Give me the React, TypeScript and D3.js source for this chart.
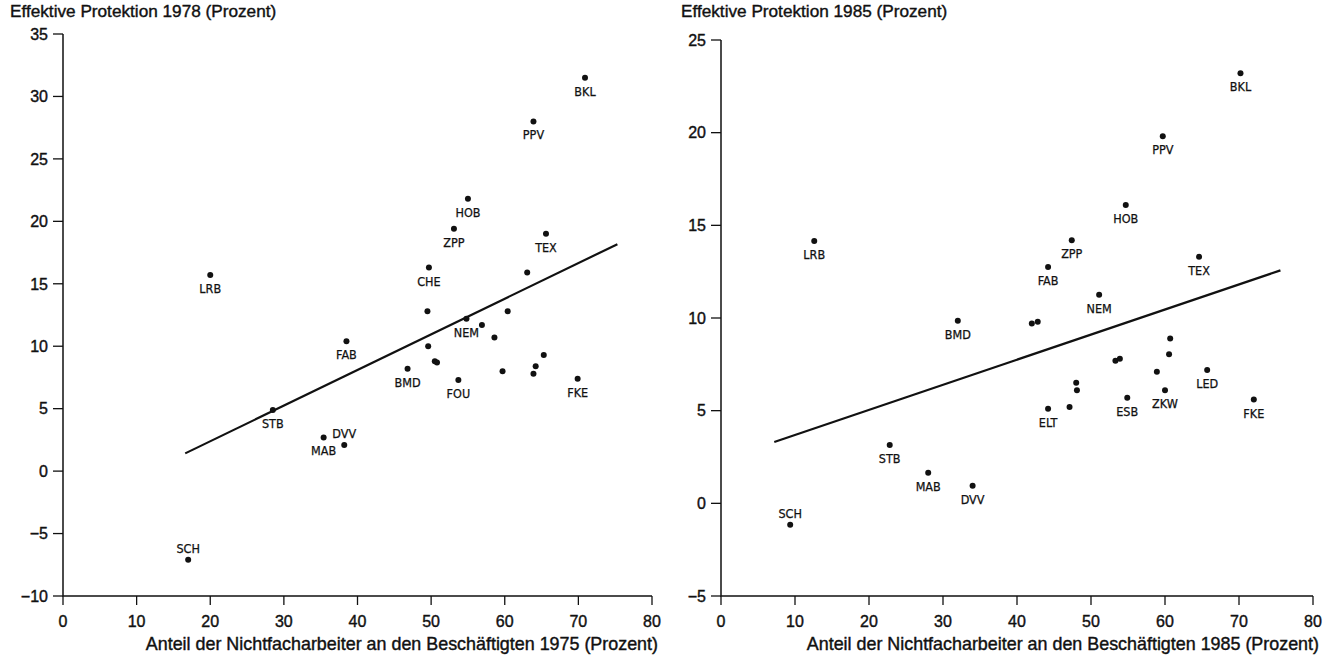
import React from "react";
import * as d3 from "d3";

// 1975/1978 panel
const names78 = ["BKL", "PPV", "HOB", "ZPP", "TEX", "LRB", "CHE", "", "", "NEM", "", "", "FAB", "", "", "", "", "", "BMD", "", "", "", "FOU", "FKE", "STB", "MAB", "DVV", "SCH"];
const share75 = [70.9, 63.9, 55.0, 53.1, 65.6, 20.0, 49.7, 63.05, 49.5, 54.8, 56.9, 60.4, 38.5, 58.6, 49.6, 65.3, 50.5, 50.8, 46.8, 64.2, 59.7, 63.9, 53.7, 69.9, 28.5, 35.4, 38.2, 17.0];
const prot78 = [31.5, 28.0, 21.8, 19.4, 19.0, 15.7, 16.3, 15.9, 12.8, 12.2, 11.7, 12.8, 10.4, 10.7, 10.0, 9.3, 8.8, 8.7, 8.2, 8.4, 8.0, 7.8, 7.3, 7.4, 4.9, 2.7, 2.1, -7.1];
const above78 = ["SCH", "DVV"];
const fit78 = [[16.6, 1.42], [75.3, 18.17]];
const yTicks78 = [35, 30, 25, 20, 15, 10, 5, 0, -5, -10];

// 1985 panel
const names85 = ["BKL", "PPV", "HOB", "LRB", "ZPP", "TEX", "FAB", "NEM", "BMD", "", "", "", "", "", "", "", "LED", "", "", "ZKW", "ESB", "FKE", "", "ELT", "STB", "MAB", "DVV", "SCH"];
const share85 = [70.2, 59.7, 54.7, 12.6, 47.4, 64.6, 44.2, 51.1, 32.0, 42.0, 42.8, 60.7, 60.55, 53.3, 53.9, 58.9, 65.7, 48.0, 48.1, 60.0, 54.9, 72.0, 47.1, 44.2, 22.8, 28.0, 34.0, 9.35];
const prot85 = [23.2, 19.8, 16.1, 14.15, 14.2, 13.3, 12.75, 11.25, 9.85, 9.7, 9.8, 8.9, 8.05, 7.7, 7.8, 7.1, 7.2, 6.5, 6.1, 6.1, 5.7, 5.6, 5.2, 5.1, 3.15, 1.65, 0.95, -1.15];
const above85 = ["SCH"];
const fit85 = [[7.2, 3.31], [75.6, 12.57]];
const yTicks85 = [25, 20, 15, 10, 5, 0, -5];

const xTicks = [0, 10, 20, 30, 40, 50, 60, 70, 80];

const FONT = "'Liberation Sans', Arial, Helvetica, sans-serif";
const NARROW = "'Liberation Sans Narrow', 'DejaVu Sans Condensed', 'Liberation Sans', sans-serif";

interface PanelProps {
  names: string[];
  xs: number[];
  ys: number[];
  above: string[];
  fit: number[][];
  yTicks: number[];
  xPx: [number, number];
  yPx: [number, number];
  yTitle: string;
  xTitle: string;
  titleX: number;
}

const Panel: React.FC<PanelProps> = ({ names, xs, ys, above, fit, yTicks, xPx, yPx, yTitle, xTitle, titleX }) => {
  const x = d3.scaleLinear().domain([0, 80]).range(xPx);
  const yMax = d3.max(yTicks) ?? 0;
  const yMin = d3.min(yTicks) ?? 0;
  const y = d3.scaleLinear().domain([yMin, yMax]).range(yPx);
  const line = d3.line<number[]>().x((d) => x(d[0])).y((d) => y(d[1]));
  const x0 = x(0);
  const yb = y(yMin);
  const heavy = { stroke: "#111", strokeWidth: 0.4 };

  return (
    <g fontFamily={FONT} fill="#111">
      <text x={titleX} y={17} fontSize={17.2} {...heavy}>{yTitle}</text>
      {/* axes */}
      <path d={`M${x0},${y(yMax)}V${yb}H${x(80)}`} fill="none" stroke="#111" strokeWidth={1.5} />
      {yTicks.map((t) => (
        <g key={"y" + t}>
          <line x1={x0 - 10} x2={x0} y1={y(t)} y2={y(t)} stroke="#111" strokeWidth={1.3} />
          <text x={x0 - 15} y={y(t)} dy="0.36em" textAnchor="end" fontSize={16} {...heavy}>
            {t < 0 ? "\u2212" + Math.abs(t) : t}
          </text>
        </g>
      ))}
      {xTicks.map((t) => (
        <g key={"x" + t}>
          <line x1={x(t)} x2={x(t)} y1={yb} y2={yb + 9} stroke="#111" strokeWidth={1.3} />
          <text x={x(t)} y={yb + 31} textAnchor="middle" fontSize={16} {...heavy}>{t}</text>
        </g>
      ))}
      <text x={x(80) + 6} y={yb + 54} textAnchor="end" fontSize={17.9} {...heavy}>{xTitle}</text>
      {/* regression line */}
      <path d={line(fit) ?? ""} fill="none" stroke="#111" strokeWidth={2.2} />
      {/* points */}
      {xs.map((v, i) => (
        <g key={"p" + i}>
          <circle cx={x(v)} cy={y(ys[i])} r={3} fill="#111" />
          {names[i] && (
            <text
              x={x(v)}
              y={y(ys[i]) + (above.includes(names[i]) ? -7 : 18)}
              textAnchor="middle"
              fontFamily={NARROW}
              fontSize={12.5}
              stroke="#111"
              strokeWidth={0.25}
            >
              {names[i]}
            </text>
          )}
        </g>
      ))}
    </g>
  );
};

export default function App() {
  return (
    <svg width={1334} height={661} style={{ position: "absolute", left: 0, top: 0, background: "#fff" }}>
      <Panel
        names={names78}
        xs={share75}
        ys={prot78}
        above={above78}
        fit={fit78}
        yTicks={yTicks78}
        xPx={[63, 652]}
        yPx={[596, 34]}
        yTitle="Effektive Protektion 1978 (Prozent)"
        xTitle="Anteil der Nichtfacharbeiter an den Beschäftigten 1975 (Prozent)"
        titleX={10}
      />
      <Panel
        names={names85}
        xs={share85}
        ys={prot85}
        above={above85}
        fit={fit85}
        yTicks={yTicks85}
        xPx={[721, 1313]}
        yPx={[596, 40]}
        yTitle="Effektive Protektion 1985 (Prozent)"
        xTitle="Anteil der Nichtfacharbeiter an den Beschäftigten 1985 (Prozent)"
        titleX={681}
      />
    </svg>
  );
}
